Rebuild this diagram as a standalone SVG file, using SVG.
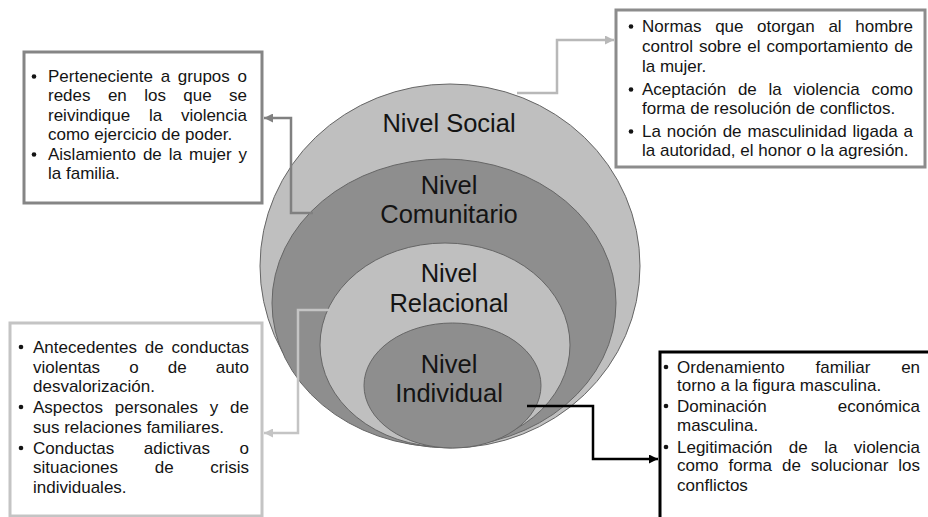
<svg xmlns="http://www.w3.org/2000/svg" width="928" height="517" viewBox="0 0 928 517">
<defs>
<style>
.t{font-family:"Liberation Sans",Arial,sans-serif;font-size:17px;fill:#141414}
.lbl{font-family:"Liberation Sans",Arial,sans-serif;font-size:25.5px;fill:#141414;text-anchor:middle}
.ring{stroke:#666;stroke-width:1}
.light{fill:#bfbfbf}
.dark{fill:#8e8e8e}
.box{fill:#fff;stroke-width:3}
.dot{fill:#141414}
.con{fill:none;stroke-width:2.5}
</style>
<marker id="aDark" markerUnits="userSpaceOnUse" markerWidth="10" markerHeight="9" refX="9" refY="4.5" orient="auto"><path d="M0,0 L9,4.5 L0,9 z" fill="#808080"/></marker>
<marker id="aLight" markerUnits="userSpaceOnUse" markerWidth="10" markerHeight="9" refX="9" refY="4.5" orient="auto"><path d="M0,0 L9,4.5 L0,9 z" fill="#b8b8b8"/></marker>
<marker id="aPale" markerUnits="userSpaceOnUse" markerWidth="10" markerHeight="9" refX="9" refY="4.5" orient="auto"><path d="M0,0 L9,4.5 L0,9 z" fill="#c4c4c4"/></marker>
<marker id="aBlack" markerUnits="userSpaceOnUse" markerWidth="10" markerHeight="9" refX="9" refY="4.5" orient="auto"><path d="M0,0 L9,4.5 L0,9 z" fill="#000"/></marker>
</defs>
<rect width="928" height="517" fill="#fff"/>

<g id="nivel-social">
<ellipse class="ring light" cx="450" cy="266" rx="190" ry="182"/>
<text class="lbl" x="449" y="131.5">Nivel Social</text>
</g>
<g id="nivel-comunitario">
<ellipse class="ring dark" cx="444" cy="303" rx="172" ry="144"/>
<text class="lbl" x="449" y="194">Nivel</text>
<text class="lbl" x="449" y="223">Comunitario</text>
</g>
<g id="nivel-relacional">
<ellipse class="ring light" cx="445" cy="345" rx="125" ry="102"/>
<text class="lbl" x="449" y="282">Nivel</text>
<text class="lbl" x="449" y="311.5">Relacional</text>
</g>
<g id="nivel-individual">
<ellipse class="ring dark" cx="452.5" cy="385.5" rx="88.5" ry="62.5"/>
<text class="lbl" x="449" y="372.5">Nivel</text>
<text class="lbl" x="449" y="401.5">Individual</text>
</g>

<g id="box-comunitario">
<rect class="box" x="24" y="52" width="238" height="151" stroke="#858585"/>
<circle class="dot" cx="34" cy="76.5" r="2.3"/>
<circle class="dot" cx="34" cy="154.5" r="2.3"/>
<text class="t" x="48" y="82" word-spacing="3">Perteneciente a grupos o</text>
<text class="t" x="48" y="101" word-spacing="12.65">redes en los que se</text>
<text class="t" x="48" y="121" word-spacing="14">reivindique la violencia</text>
<text class="t" x="48" y="140">como ejercicio de poder.</text>
<text class="t" x="48" y="160" word-spacing="2.3">Aislamiento de la mujer y</text>
<text class="t" x="48" y="179">la familia.</text>
</g>

<g id="box-social">
<rect class="box" x="616" y="10" width="309" height="157" stroke="#8c8c8c"/>
<circle class="dot" cx="631" cy="26.5" r="2.3"/>
<circle class="dot" cx="631" cy="89.5" r="2.3"/>
<circle class="dot" cx="631" cy="131.5" r="2.3"/>
<text class="t" x="642" y="32" word-spacing="8.9">Normas que otorgan al hombre</text>
<text class="t" x="642" y="52" word-spacing="1.15">control sobre el comportamiento de</text>
<text class="t" x="642" y="71.5">la mujer.</text>
<text class="t" x="642" y="95" word-spacing="7.05">Aceptación de la violencia como</text>
<text class="t" x="642" y="114">forma de resolución de conflictos.</text>
<text class="t" x="642" y="137" word-spacing="1.1">La noción de masculinidad ligada a</text>
<text class="t" x="642" y="155.5">la autoridad, el honor o la agresión.</text>
</g>

<g id="box-relacional">
<rect class="box" x="10" y="323" width="252" height="193" stroke="#c4c4c4"/>
<circle class="dot" cx="21" cy="347" r="2.3"/>
<circle class="dot" cx="21" cy="407" r="2.3"/>
<circle class="dot" cx="21" cy="448" r="2.3"/>
<text class="t" x="33" y="352.5" word-spacing="3.1">Antecedentes de conductas</text>
<text class="t" x="33" y="372.5" word-spacing="24.4">violentas o de auto</text>
<text class="t" x="33" y="391.5">desvalorización.</text>
<text class="t" x="33" y="412.5" word-spacing="7.1">Aspectos personales y de</text>
<text class="t" x="33" y="432.5">sus relaciones familiares.</text>
<text class="t" x="33" y="453.5" word-spacing="24.85">Conductas adictivas o</text>
<text class="t" x="33" y="472.5" word-spacing="31.95">situaciones de crisis</text>
<text class="t" x="33" y="492.5">individuales.</text>
</g>

<g id="box-individual">
<rect class="box" x="660" y="352" width="280" height="180" stroke="#000"/>
<circle class="dot" cx="666" cy="367" r="2.3"/>
<circle class="dot" cx="666" cy="406" r="2.3"/>
<circle class="dot" cx="666" cy="447" r="2.3"/>
<text class="t" x="677" y="372.5" word-spacing="26.1">Ordenamiento familiar en</text>
<text class="t" x="677" y="390.5">torno a la figura masculina.</text>
<text class="t" x="677" y="411.5" word-spacing="66.3">Dominación económica</text>
<text class="t" x="677" y="430.5">masculina.</text>
<text class="t" x="677" y="452.5" word-spacing="11.7">Legitimación de la violencia</text>
<text class="t" x="677" y="470.5" word-spacing="5.25">como forma de solucionar los</text>
<text class="t" x="677" y="490.5">conflictos</text>
</g>

<g id="connectors">
<path class="con" d="M313 213 H291 V118 H264" stroke="#808080" marker-end="url(#aDark)"/>
<path class="con" d="M517 93 H557 V40 H614" stroke="#b8b8b8" marker-end="url(#aLight)"/>
<path class="con" d="M330 310 H298 V433 H264" stroke="#c4c4c4" marker-end="url(#aPale)"/>
<path class="con" d="M527 406 H593 V459 H658" stroke="#000" marker-end="url(#aBlack)"/>
</g>
</svg>
